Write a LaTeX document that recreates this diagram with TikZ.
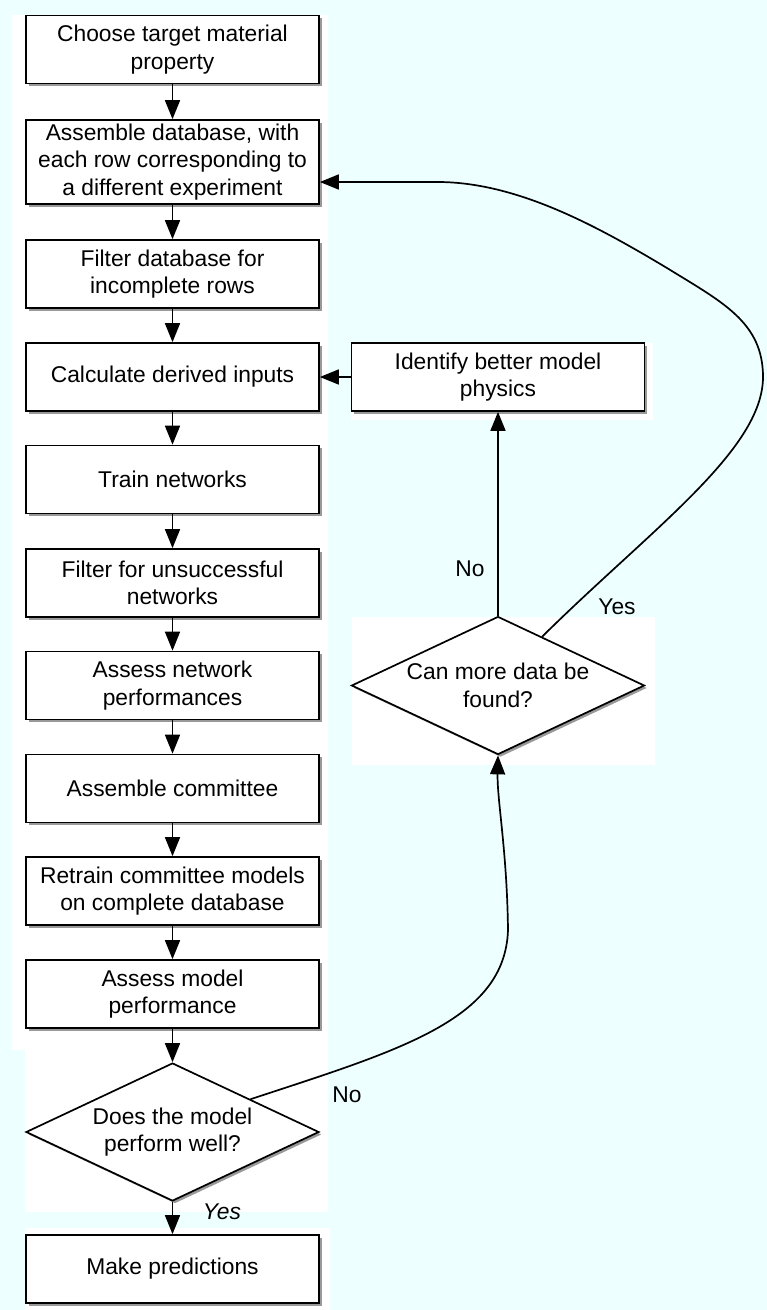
\documentclass[tikz,border=0pt]{standalone}
\usepackage{fontspec}
\setmainfont{Liberation Sans}
\usetikzlibrary{shapes.geometric,arrows.meta,shadows,calc}
\definecolor{bgcyan}{RGB}{238,255,255}
\tikzset{
  stepbox/.style={draw=black, line width=1.7pt, fill=white, minimum width=293pt, minimum height=68pt,
    inner sep=0pt, align=center, font=\fontsize{22.8}{27.5}\selectfont,
    drop shadow={shadow xshift=2.5pt, shadow yshift=-2.5pt, fill=black, opacity=0.4}},
  decide/.style={draw=black, line width=1.7pt, fill=white, shape=diamond, aspect=2.12,
    minimum width=293pt, minimum height=138pt, inner sep=0pt, align=center,
    font=\fontsize{22.8}{27.5}\selectfont,
    drop shadow={shadow xshift=2.5pt, shadow yshift=-2.5pt, fill=black, opacity=0.4}},
  arr/.style={line width=1.7pt, -{Triangle[width=15pt,length=19pt]}},
  lbl/.style={font=\fontsize{22.8}{27.5}\selectfont, inner sep=0pt}
}
\begin{document}
\begin{tikzpicture}[x=1pt,y=-1pt]
\useasboundingbox (0,0) rectangle (767,1310);
\fill[bgcyan] (0,0) rectangle (767,1310);
% white panels
\fill[white] (12,15) rectangle (328,1050);
\fill[white] (25,1050) rectangle (328,1212);
\fill[white] (25,1228) rectangle (330,1310);
\fill[white] (351,343) rectangle (653,420);
\fill[white] (352,617) rectangle (655,765);

\node[stepbox] (b1) at (172.5,49.5) {Choose target material\\property};
\node[stepbox, minimum height=84pt] (b2) at (172.5,162) {Assemble database, with\\each row corresponding to\\a different experiment};
\node[stepbox] (b3) at (172.5,274) {Filter database for\\incomplete rows};
\node[stepbox] (b4) at (172.5,377) {Calculate derived inputs};
\node[stepbox] (b5) at (172.5,479.5) {Train networks};
\node[stepbox] (b6) at (172.5,583) {Filter for unsuccessful\\networks};
\node[stepbox] (b7) at (172.5,685.5) {Assess network\\performances};
\node[stepbox] (b8) at (172.5,788.5) {Assemble committee};
\node[stepbox] (b9) at (172.5,891) {Retrain committee models\\on complete database};
\node[stepbox] (b10) at (172.5,994) {Assess model\\performance};
\node[decide] (d1) at (172.5,1132) {Does the model\\perform well?};
\node[stepbox] (b11) at (172.5,1269) {Make predictions};

\node[stepbox] (phys) at (498,377) {Identify better model\\physics};
\node[decide, aspect=2.14] (d2) at (498,685.5) {Can more data be\\found?};

\draw[arr] (b1) -- (b2);
\draw[arr] (b2) -- (b3);
\draw[arr] (b3) -- (b4);
\draw[arr] (b4) -- (b5);
\draw[arr] (b5) -- (b6);
\draw[arr] (b6) -- (b7);
\draw[arr] (b7) -- (b8);
\draw[arr] (b8) -- (b9);
\draw[arr] (b9) -- (b10);
\draw[arr] (b10) -- (d1);
\draw[arr] (d1) -- (b11);
\draw[arr] (phys) -- (b4);
\draw[arr] (d2) -- (phys);

\coordinate (d1no) at ($(d1.north)!0.53!(d1.east)$);
\coordinate (d2yes) at ($(d2.north)!0.3!(d2.east)$);
\coordinate (b2in) at ($(b2.east)+(0,20)$);

\draw[arr] (d1no) .. controls (400,1050) and (505,1020) .. (508,930)
  .. controls (507,850) and (497,800) .. (d2.south);
\draw[arr] (d2yes) .. controls (650,530) and (763,450) .. (763,377)
  .. controls (763,322) and (722,302) .. (667,268)
  .. controls (600,228) and (520,183) .. (440,182) -- (b2in);

\node[lbl] (lno1) at (470,569) {No};
\node[lbl] (lyes1) at (617,607) {Yes};
\node[lbl] (lno2) at (347,1095) {No};
\node[lbl, font=\fontsize{22.8}{27.5}\selectfont\itshape] (lyes2) at (222,1212) {Yes};
\end{tikzpicture}
\end{document}
